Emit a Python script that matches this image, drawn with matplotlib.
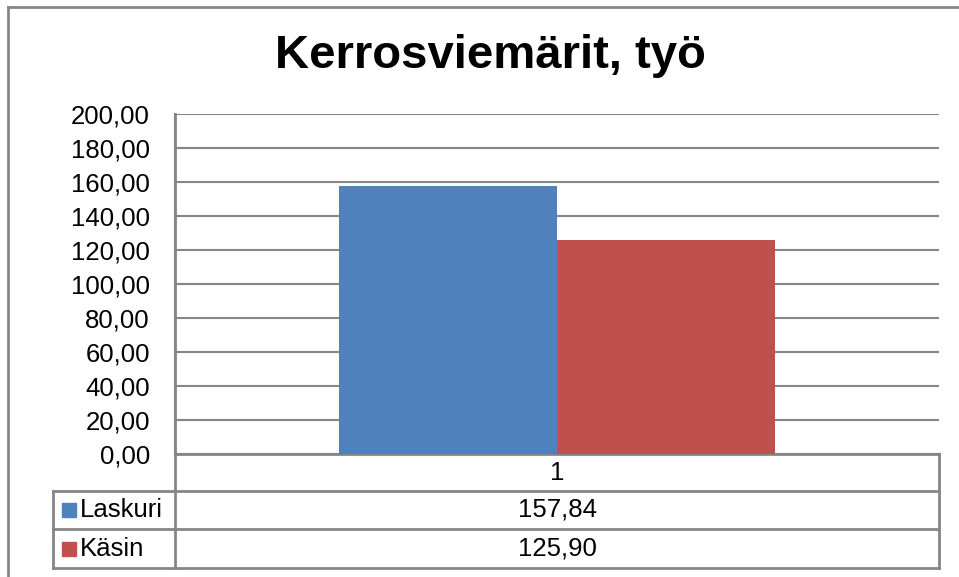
import matplotlib.pyplot as plt
from matplotlib.patches import Rectangle
from matplotlib.lines import Line2D
from matplotlib.ticker import FuncFormatter, MultipleLocator

plt.rcParams['font.family'] = ['Liberation Sans', 'DejaVu Sans']

# data
title = "Kerrosviemärit, työ"
category = "1"
series = ["Laskuri", "Käsin"]
values = [157.84, 125.90]
colors = ["#4F81BD", "#C0504D"]

W, H = 959, 577
grid_col = "#868686"
fs = 18.5

fig = plt.figure(figsize=(W / 100, H / 100), dpi=100)

# plot area in pixels (left, top, right, bottom)
pl, pt, pr, pb = 175, 114, 939, 454
ax = fig.add_axes([pl / W, 1 - pb / H, (pr - pl) / W, (pb - pt) / H])

def ax_x(px):
    return (px - pl) / (pr - pl)

def ax_y(py):
    return (pb - py) / (pb - pt)

def fmt(v):
    return f"{v:.2f}".replace(".", ",")

# bars
bw = 0.285
for i, (v, c) in enumerate(zip(values, colors)):
    ax.bar(-bw + i * bw, v, width=bw, align="edge", color=c, zorder=3)

ax.set_xlim(-0.5, 0.5)
ax.set_ylim(0, 200)
ax.yaxis.set_major_locator(MultipleLocator(20))
ax.yaxis.set_major_formatter(FuncFormatter(lambda v, p: fmt(v)))
ax.set_xticks([])
ax.tick_params(axis="y", length=0, pad=18, labelsize=fs)
ax.grid(axis="y", color=grid_col, linewidth=1.5, zorder=0)
for s in ["top", "right"]:
    ax.spines[s].set_visible(False)
for s in ["left", "bottom"]:
    ax.spines[s].set_color(grid_col)
    ax.spines[s].set_linewidth(1.5)

# data table below the plot area
tab_left = 53
rows_py = [454, 491, 529, 568]
lw = 2
tr = ax.transAxes
for py in rows_py[1:]:
    ax.add_line(Line2D([ax_x(tab_left), 1], [ax_y(py)] * 2, transform=tr,
                       color=grid_col, lw=lw, clip_on=False))
ax.add_line(Line2D([0, 1], [0, 0], transform=tr, color=grid_col, lw=lw, clip_on=False))
ax.add_line(Line2D([0, 0], [1, ax_y(rows_py[-1])], transform=tr, color=grid_col, lw=lw, clip_on=False))
ax.add_line(Line2D([1, 1], [0, ax_y(rows_py[-1])], transform=tr, color=grid_col, lw=lw, clip_on=False))
ax.add_line(Line2D([ax_x(tab_left)] * 2, [ax_y(rows_py[1]), ax_y(rows_py[-1])], transform=tr,
                   color=grid_col, lw=lw, clip_on=False))

mid = 0.5
ax.text(mid, ax_y((rows_py[0] + rows_py[1]) / 2), category, transform=tr,
        ha="center", va="center", fontsize=fs)
for i, (name, v, c) in enumerate(zip(series, values, colors)):
    yc = ax_y((rows_py[i + 1] + rows_py[i + 2]) / 2)
    ax.text(mid, yc, fmt(v), transform=tr, ha="center", va="center", fontsize=fs)
    sq = 14
    ax.add_patch(Rectangle((ax_x(62), yc - (sq / 2) / (pb - pt)), sq / (pr - pl), sq / (pb - pt),
                           transform=tr, color=c, clip_on=False))
    ax.text(ax_x(80), yc, name, transform=tr, ha="left", va="center", fontsize=fs)

# title
fig.text(490 / W, 1 - 56 / H, title, ha="center", va="center", fontsize=34, fontweight="bold")

# chart border (left and top visible)
fig.add_artist(Line2D([8 / W, 8 / W], [0, 1 - 7 / H], color=grid_col, lw=2))
fig.add_artist(Line2D([8 / W, 1], [1 - 7 / H, 1 - 7 / H], color=grid_col, lw=2))

fig.savefig("out.png", dpi=100)
